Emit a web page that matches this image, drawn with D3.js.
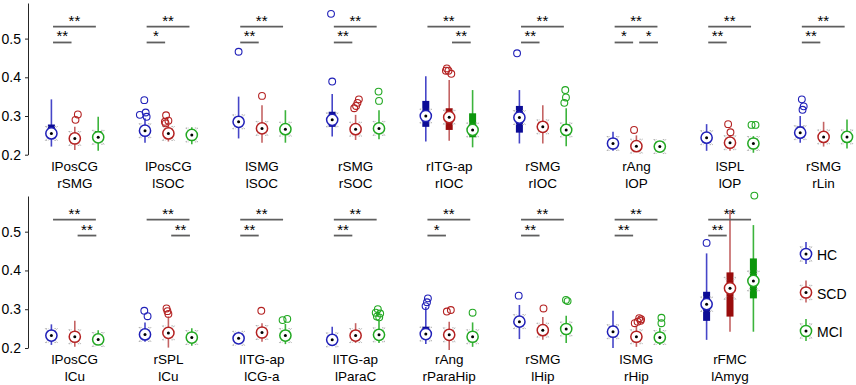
<!DOCTYPE html>
<html lang="en">
<head>
<meta charset="UTF-8">
<title>Boxplots HC / SCD / MCI</title>
<script src="https://d3js.org/d3.v7.min.js"></script>
<style>
  body { margin: 0; background: #fff; font-family: Arial, "Liberation Sans", sans-serif; }
  svg text { fill: #000; }
</style>
</head>
<body>
<div id="chart"></div>
<script>
// connection labels (two lines per panel)
const pairs = [
  ["lPosCG", "rSMG"], ["lPosCG", "lSOC"], ["lSMG", "lSOC"], ["rSMG", "rSOC"],
  ["rITG-ap", "rIOC"], ["rSMG", "rIOC"], ["rAng", "lOP"], ["lSPL", "lOP"], ["rSMG", "rLin"],
  ["lPosCG", "lCu"], ["rSPL", "lCu"], ["lITG-ap", "lCG-a"], ["lITG-ap", "lParaC"],
  ["rAng", "rParaHip"], ["rSMG", "lHip"], ["lSMG", "rHip"], ["rFMC", "lAmyg"]
];
const groups = ["HC", "SCD", "MCI"];

// [lower whisker, q1, median, q3, upper whisker] for each panel
const hcStats = [
  [0.221, 0.250, 0.255, 0.278, 0.343], [0.231, 0.256, 0.262, 0.268, 0.294], [0.242, 0.272, 0.285, 0.295, 0.350],
  [0.247, 0.272, 0.290, 0.311, 0.357], [0.234, 0.272, 0.300, 0.339, 0.403], [0.229, 0.257, 0.296, 0.326, 0.367],
  [0.210, 0.225, 0.229, 0.234, 0.259], [0.210, 0.238, 0.244, 0.250, 0.279], [0.231, 0.252, 0.257, 0.273, 0.300],
  [0.208, 0.227, 0.232, 0.237, 0.261], [0.216, 0.230, 0.235, 0.240, 0.266], [0.210, 0.220, 0.225, 0.230, 0.242],
  [0.213, 0.217, 0.221, 0.226, 0.255], [0.210, 0.230, 0.236, 0.255, 0.306], [0.223, 0.256, 0.268, 0.275, 0.311],
  [0.200, 0.228, 0.242, 0.257, 0.296], [0.221, 0.270, 0.313, 0.345, 0.444]
];
const scdStats = [
  [0.212, 0.236, 0.242, 0.250, 0.272], [0.234, 0.250, 0.255, 0.262, 0.276], [0.231, 0.262, 0.268, 0.280, 0.328],
  [0.238, 0.260, 0.266, 0.272, 0.303], [0.236, 0.264, 0.297, 0.320, 0.393], [0.229, 0.262, 0.272, 0.280, 0.328],
  [0.208, 0.217, 0.222, 0.228, 0.250], [0.210, 0.226, 0.231, 0.236, 0.250], [0.221, 0.241, 0.246, 0.251, 0.285],
  [0.203, 0.224, 0.229, 0.235, 0.270], [0.201, 0.232, 0.239, 0.246, 0.281], [0.216, 0.235, 0.240, 0.245, 0.264],
  [0.213, 0.227, 0.232, 0.237, 0.264], [0.195, 0.229, 0.234, 0.240, 0.268], [0.221, 0.241, 0.246, 0.252, 0.280],
  [0.203, 0.224, 0.229, 0.235, 0.255], [0.242, 0.281, 0.354, 0.395, 0.556]
];
const mciStats = [
  [0.210, 0.240, 0.245, 0.261, 0.298], [0.227, 0.246, 0.251, 0.256, 0.271], [0.231, 0.260, 0.266, 0.278, 0.315],
  [0.240, 0.262, 0.268, 0.276, 0.315], [0.219, 0.245, 0.264, 0.307, 0.367], [0.222, 0.258, 0.264, 0.279, 0.320],
  [0.210, 0.217, 0.221, 0.225, 0.232], [0.205, 0.224, 0.229, 0.234, 0.248], [0.216, 0.241, 0.246, 0.260, 0.291],
  [0.208, 0.217, 0.222, 0.228, 0.246], [0.206, 0.222, 0.227, 0.232, 0.251], [0.210, 0.227, 0.232, 0.238, 0.262],
  [0.213, 0.229, 0.234, 0.240, 0.270], [0.203, 0.224, 0.229, 0.235, 0.266], [0.213, 0.244, 0.249, 0.255, 0.283],
  [0.208, 0.222, 0.227, 0.232, 0.252], [0.242, 0.328, 0.373, 0.431, 0.517]
];

// outliers as [value, horizontal jitter in group units]
const hcOutliers = [
  [], [[0.341, -0.03], [0.303, -0.22], [0.309, 0.03], [0.298, 0.07]], [[0.466, 0]],
  [[0.564, -0.05], [0.389, 0]], [], [[0.462, -0.1]], [], [], [[0.343, 0.07], [0.325, 0.15], [0.316, 0.1]],
  [], [[0.296, -0.03], [0.282, 0.11]], [], [], [[0.328, 0.09], [0.318, 0.05], [0.308, -0.01]],
  [[0.335, -0.03]], [], [[0.471, 0]]
];
const scdOutliers = [
  [[0.304, 0.13], [0.290, 0.03]], [[0.302, -0.1], [0.285, -0.15], [0.288, 0], [0.281, -0.12]], [[0.352, 0]],
  [[0.320, -0.06], [0.326, 0.02], [0.334, 0.08], [0.343, 0.14]], [[0.423, -0.1], [0.417, -0.14], [0.417, -0.03], [0.409, 0.09]],
  [], [[0.264, -0.1]], [[0.279, -0.08], [0.258, 0.02]], [],
  [], [[0.302, -0.08], [0.295, -0.04], [0.288, 0]], [[0.296, -0.03]], [], [[0.294, -0.1], [0.298, 0.07]],
  [[0.302, 0.03]], [[0.264, -0.07], [0.270, 0.18], [0.277, 0.12], [0.268, 0.05], [0.274, 0.2]], []
];
const mciOutliers = [
  [], [], [], [[0.363, -0.02], [0.339, 0]], [], [[0.367, -0.04], [0.348, -0.01], [0.334, -0.08]], [],
  [[0.277, -0.08], [0.277, 0.09]], [],
  [], [], [[0.272, -0.12], [0.275, 0.08]], [[0.300, -0.05], [0.291, -0.14], [0.289, 0.05], [0.281, -0.09], [0.279, 0.01]],
  [[0.291, 0]], [[0.324, -0.01], [0.321, 0.06]], [[0.278, 0.07], [0.264, 0.07]], [[0.593, 0.04]]
];

// significance marks: HC vs MCI (long bar), HC vs SCD (left), SCD vs MCI (right)
const sigLong  = ["**", "**", "**", "**", "**", "**", "**", "**", "**", "**", "**", "**", "**", "**", "**", "**", "**"];
const sigLeft  = ["**", "*", "**", "**", null, "**", "*", "**", "**", null, null, "**", "**", "*", "**", "**", "**"];
const sigRight = [null, null, null, null, "**", null, "*", null, null, "**", "**", null, null, null, null, null, null];

const yTicks = [0.2, 0.3, 0.4, 0.5];

const boxColor     = ["#0c0c96", "#990c0c", "#0c960c"];
const whiskerColor = ["#4646c8", "#c46464", "#3cb43c"];
const circleColor  = ["#2020b8", "#b42222", "#22a822"];

const width = 856, height = 385;
const svg = d3.select("#chart").append("svg")
  .attr("width", width)
  .attr("height", height);

// panel positions (9 columns, 2 rows)
const col = d3.scaleBand().domain(d3.range(9)).range([28, 870.4]);
const inner = d3.scaleLinear().domain([0, 4]).range([0, col.bandwidth()]);
const rowY = [
  d3.scaleLinear().domain([0.2, 0.592]).range([154.7, 3]),
  d3.scaleLinear().domain([0.2, 0.592]).range([348, 196])
];

const statsByGroup = [hcStats, scdStats, mciStats];
const outByGroup = [hcOutliers, scdOutliers, mciOutliers];

// y axes on the left column only
rowY.forEach(y => {
  const ax = svg.append("g")
    .attr("transform", `translate(${col(0)},0)`)
    .call(d3.axisLeft(y).tickValues(yTicks).tickFormat(d3.format(".1f")).tickSize(3).tickSizeOuter(0));
  ax.select(".domain").attr("stroke", "#262626").attr("stroke-width", 1);
  ax.selectAll(".tick line").attr("stroke", "#262626");
  ax.selectAll(".tick text").attr("font-size", 14).attr("font-family", "Arial, 'Liberation Sans', sans-serif").attr("x", -7).attr("fill", "#000");
});

function notchHalf(s) {
  return Math.max(1.57 * (s[3] - s[1]) / Math.sqrt(40), 0.018);
}

function drawBox(g, cx, y, s, gi, outs) {
  // whisker
  g.append("line")
    .attr("x1", cx).attr("x2", cx)
    .attr("y1", y(s[0])).attr("y2", y(s[4]))
    .attr("stroke", whiskerColor[gi]).attr("stroke-width", 1.6);
  // box
  g.append("rect")
    .attr("x", cx - 3.5).attr("width", 7)
    .attr("y", y(s[3])).attr("height", Math.max(y(s[1]) - y(s[3]), 0))
    .attr("fill", boxColor[gi]);
  // notch markers
  const nh = notchHalf(s);
  [1, -1].forEach(sgn => {
    const yn = y(s[2] + sgn * nh);
    const dir = sgn > 0 ? 1 : -1;
    g.append("path")
      .attr("d", `M${cx - 6},${yn}L${cx - 3},${yn + dir * 3}M${cx + 6},${yn}L${cx + 3},${yn + dir * 3}M${cx - 6},${yn}L${cx - 3},${yn}M${cx + 3},${yn}L${cx + 6},${yn}`)
      .attr("fill", "none").attr("stroke", "#b0b0b0").attr("stroke-width", 1)
      .attr("stroke-dasharray", "1.5,1");
  });
  // outliers
  (outs || []).forEach(o => {
    g.append("circle")
      .attr("cx", cx + inner(o[1]) - inner(0)).attr("cy", y(o[0]))
      .attr("r", 3.4)
      .attr("fill", "none").attr("stroke", circleColor[gi]).attr("stroke-width", 1.1);
  });
  // median target
  g.append("circle")
    .attr("cx", cx).attr("cy", y(s[2])).attr("r", 5.6)
    .attr("fill", "#fff").attr("stroke", circleColor[gi]).attr("stroke-width", 1.5);
  g.append("circle")
    .attr("cx", cx).attr("cy", y(s[2])).attr("r", 1.5)
    .attr("fill", "#000");
}

function sigBar(g, x0, y, a, b, lev, txt) {
  if (!txt) return;
  const xa = x0 + inner(a), xb = x0 + inner(b);
  g.append("line")
    .attr("x1", xa).attr("x2", xb)
    .attr("y1", y(lev)).attr("y2", y(lev))
    .attr("stroke", "#5f5f5f").attr("stroke-width", 1.8);
  g.append("text")
    .attr("x", (xa + xb) / 2).attr("y", y(lev) - 1)
    .attr("text-anchor", "middle")
    .attr("font-size", 15)
    .text(txt);
}

pairs.forEach((pair, p) => {
  const r = p < 9 ? 0 : 1;
  const c = p < 9 ? p : p - 9;
  const y = rowY[r];
  const x0 = col(c);
  const g = svg.append("g");

  groups.forEach((name, gi) => {
    drawBox(g, x0 + inner(gi + 1), y, statsByGroup[gi][p], gi, outByGroup[gi][p]);
  });

  sigBar(g, x0, y, 1.07, 2.9, 0.531, sigLong[p]);
  sigBar(g, x0, y, 1.07, 1.86, 0.490, sigLeft[p]);
  sigBar(g, x0, y, 2.12, 2.92, 0.490, sigRight[p]);

  const cx = x0 + inner(2);
  pair.forEach((lab, li) => {
    g.append("text")
      .attr("x", cx).attr("y", y(0.2) + 16 + li * 17)
      .attr("text-anchor", "middle")
      .attr("font-size", 13.5)
      .text(lab);
  });
});

// legend in the last column of the bottom row
const legStats = [0.245, 0.265, 0.27, 0.275, 0.30];
const legY = d3.scaleLinear().domain([0, 2]).range([255, 332]);
groups.forEach((name, gi) => {
  const yc = legY(gi);
  const ly = d3.scaleLinear().domain([0.2, 0.3]).range([yc + 27, yc - 13]);
  const lg = svg.append("g");
  drawBox(lg, 806, v => ly(v), legStats, gi, []);
  lg.append("text")
    .attr("x", 817).attr("y", yc + 5)
    .attr("font-size", 14)
    .text(name);
});
</script>
</body>
</html>
